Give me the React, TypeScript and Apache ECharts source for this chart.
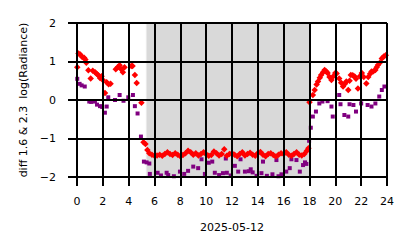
import React, { useEffect, useRef } from "react";
import * as echarts from "echarts";

const xTicks = [0, 2, 4, 6, 8, 10, 12, 14, 16, 18, 20, 22, 24];
const yTicks = [-2, -1, 0, 1, 2];
const xLabel = "2025-05-12";
const yLabel = "diff 1.6 & 2.3  log(Radiance)";
const nightStart = 5.41;
const nightEdge = 5.33;
const nightEnd = 18.0;

// red diamonds: [hour, value]
const redSeries: number[][] = [
  [0.02, 0.85], [0.12, 1.21], [0.25, 1.18], [0.4, 1.12], [0.55, 1.1], [0.65, 1.05], [0.72, 0.97],
  [0.88, 0.77], [1.06, 0.56], [1.22, 0.76], [1.4, 0.72], [1.52, 0.68], [1.65, 0.64], [1.78, 0.57],
  [1.9, 0.62], [2.0, 0.52], [2.17, 0.18], [2.3, 0.46], [2.45, 0.41], [2.6, 0.42], [3.0, 0.8],
  [3.15, 0.85], [3.3, 0.9], [3.42, 0.8], [3.55, 0.72], [3.68, 0.85], [4.2, 0.88], [4.3, 0.88],
  [4.48, 0.65], [4.62, 0.44], [4.99, -0.07], [5.15, -1.1], [5.3, -1.14],
  [5.45, -1.3], [5.6, -1.38], [5.8, -1.42], [6.0, -1.45], [6.2, -1.44], [6.4, -1.42], [6.6, -1.45],
  [6.8, -1.4], [7.0, -1.36], [7.2, -1.4], [7.4, -1.43], [7.6, -1.38], [7.8, -1.42], [8.0, -1.46],
  [8.2, -1.43], [8.4, -1.38], [8.6, -1.32], [8.8, -1.36], [9.0, -1.42], [9.2, -1.38], [9.4, -1.44],
  [9.6, -1.4], [9.8, -1.36], [10.0, -1.41], [10.2, -1.45], [10.4, -1.43], [10.6, -1.34], [10.8, -1.38],
  [11.0, -1.44], [11.2, -1.4], [11.4, -1.28], [11.6, -1.45], [11.8, -1.4], [12.0, -1.38], [12.2, -1.42],
  [12.4, -1.46], [12.6, -1.4], [12.8, -1.36], [13.0, -1.44], [13.2, -1.4], [13.4, -1.37], [13.6, -1.42],
  [13.8, -1.45], [14.0, -1.38], [14.2, -1.35], [14.4, -1.42], [14.6, -1.46], [14.8, -1.4], [15.0, -1.38],
  [15.2, -1.43], [15.4, -1.47], [15.6, -1.42], [15.8, -1.38], [16.0, -1.4], [16.2, -1.36], [16.4, -1.42],
  [16.6, -1.45], [16.8, -1.4], [17.0, -1.36], [17.2, -1.42], [17.4, -1.44], [17.6, -1.4], [17.8, -1.32],
  [17.92, -1.25],
  [18.0, -0.06], [18.26, 0.13], [18.4, 0.26], [18.55, 0.4], [18.66, 0.48], [18.8, 0.58], [18.9, 0.65],
  [19.05, 0.72], [19.17, 0.78], [19.3, 0.74], [19.4, 0.7], [19.55, 0.6], [19.7, 0.52], [19.85, 0.62],
  [20.0, 0.7], [20.1, 0.69], [20.3, 0.56], [20.45, 0.45], [20.6, 0.35], [20.75, 0.42], [20.85, 0.48],
  [21.0, 0.26], [21.1, 0.5], [21.2, 0.65], [21.35, 0.64], [21.5, 0.61], [21.6, 0.55], [21.75, 0.3],
  [21.9, 0.62], [22.05, 0.7], [22.2, 0.6], [22.4, 0.43], [22.55, 0.6], [22.7, 0.68], [22.8, 0.74],
  [22.95, 0.75], [23.1, 0.78], [23.2, 0.85], [23.3, 0.91], [23.45, 0.97], [23.6, 1.08], [23.75, 1.13],
  [23.9, 1.16],
];

// purple squares: [hour, value]
const purpleSeries: number[][] = [
  [0.02, 0.55], [0.2, 0.42], [0.36, 0.38], [0.6, 0.35], [0.95, -0.04], [1.1, -0.05], [1.39, -0.04],
  [1.55, -0.12], [1.78, -0.16], [1.95, -0.18], [2.16, -0.33], [2.3, -0.17], [2.42, 0.07], [2.94, 0.0],
  [3.3, 0.13], [3.6, -0.02], [3.97, 0.07], [4.33, 0.13], [4.48, -0.16], [4.69, -0.35], [4.95, -0.95],
  [5.18, -1.6], [5.39, -1.62], [5.6, -1.65], [5.64, -1.92], [6.24, -1.89], [6.5, -1.96], [6.94, -1.89],
  [7.06, -1.95], [7.5, -1.98], [7.97, -1.86], [8.3, -1.92], [8.6, -1.84], [9.0, -1.73], [9.38, -1.77],
  [9.64, -1.54], [9.9, -1.92], [10.2, -1.63], [10.47, -1.6], [10.67, -1.89], [11.0, -1.95], [11.3, -1.9],
  [11.52, -1.52], [11.6, -1.89], [11.9, -1.96], [12.22, -1.71], [12.48, -1.86], [12.66, -1.54],
  [13.0, -1.86], [13.3, -1.85], [13.45, -1.8], [13.6, -1.88], [13.9, -1.97], [14.28, -1.9], [14.4, -1.6],
  [14.7, -1.97], [15.13, -1.93], [15.44, -1.56], [15.6, -1.98], [15.83, -1.93], [16.2, -1.86],
  [16.47, -1.77], [16.6, -1.54], [16.99, -1.56], [17.25, -1.86], [17.5, -1.69], [17.65, -1.62],
  [17.76, -1.66], [17.97, -1.06], [18.1, -0.72], [18.26, -0.43], [18.5, -0.3], [18.76, -0.09],
  [19.0, -0.04], [19.4, -0.03], [19.7, -0.17], [19.8, -0.43], [20.3, 0.13], [20.4, -0.11], [20.7, -0.39],
  [21.0, -0.43], [21.1, -0.11], [21.4, -0.13], [21.6, -0.3], [22.0, -0.09], [22.5, -0.13], [22.8, -0.17],
  [23.1, -0.09], [23.4, 0.09], [23.6, 0.26], [23.8, 0.35],
];

const FONT = "DejaVu Sans";
const FS = 11;
const fmt = (v: number) => String(v).replace("-", "\u2212");

export default function App() {
  const ref = useRef<HTMLDivElement>(null);
  useEffect(() => {
    if (!ref.current) return;
    const chart = echarts.init(ref.current, undefined, { renderer: "svg" });
    const gridLine = { show: true, lineStyle: { color: "#000", width: 2 } };
    const tick = { show: true, inside: false, length: 9, lineStyle: { color: "#000", width: 2 } };
    const axisLine = { show: true, onZero: false, lineStyle: { color: "#000", width: 2 } };
    chart.setOption({
      animation: false,
      backgroundColor: "#fff",
      grid: { left: 77, right: 27, top: 23, bottom: 71, containLabel: false },
      xAxis: {
        type: "value",
        min: xTicks[0],
        max: xTicks[xTicks.length - 1],
        interval: 2,
        z: 5,
        name: xLabel,
        nameLocation: "middle",
        nameGap: 45,
        nameTextStyle: { fontFamily: FONT, fontSize: FS, color: "#000" },
        axisLine,
        axisTick: tick,
        splitLine: gridLine,
        axisLabel: { fontFamily: FONT, fontSize: FS, color: "#000", margin: 19, formatter: fmt },
      },
      yAxis: {
        type: "value",
        min: yTicks[0],
        max: yTicks[yTicks.length - 1],
        interval: 1,
        z: 5,
        name: yLabel,
        nameLocation: "middle",
        nameGap: 47,
        nameTextStyle: { fontFamily: FONT, fontSize: FS, color: "#000" },
        axisLine,
        axisTick: tick,
        splitLine: gridLine,
        axisLabel: { fontFamily: FONT, fontSize: FS, color: "#000", margin: 21, formatter: fmt },
      },
      series: [
        {
          type: "scatter",
          name: "purple",
          symbol: "rect",
          symbolSize: 4,
          itemStyle: { color: "#800080", opacity: 1 },
          data: purpleSeries,
          z: 2,
        },
        {
          type: "scatter",
          name: "red",
          symbol: "diamond",
          symbolSize: 6.5,
          itemStyle: { color: "#ff0000", opacity: 1 },
          data: redSeries,
          z: 2,
        },
        {
          type: "scatter",
          name: "night",
          data: [],
          z: 3,
          silent: true,
          markArea: {
            silent: true,
            data: [
              [
                { xAxis: nightEdge, yAxis: yTicks[0], itemStyle: { color: "#808080", opacity: 0.15 } },
                { xAxis: nightStart, yAxis: yTicks[yTicks.length - 1] },
              ],
              [
                { xAxis: nightStart, yAxis: yTicks[0], itemStyle: { color: "#808080", opacity: 0.3 } },
                { xAxis: nightEnd, yAxis: yTicks[yTicks.length - 1] },
              ],
            ],
          },
        },
      ],
    });
    return () => chart.dispose();
  }, []);
  return (
    <div
      ref={ref}
      style={{ position: "absolute", left: 0, top: 0, width: 414, height: 248 }}
    />
  );
}
